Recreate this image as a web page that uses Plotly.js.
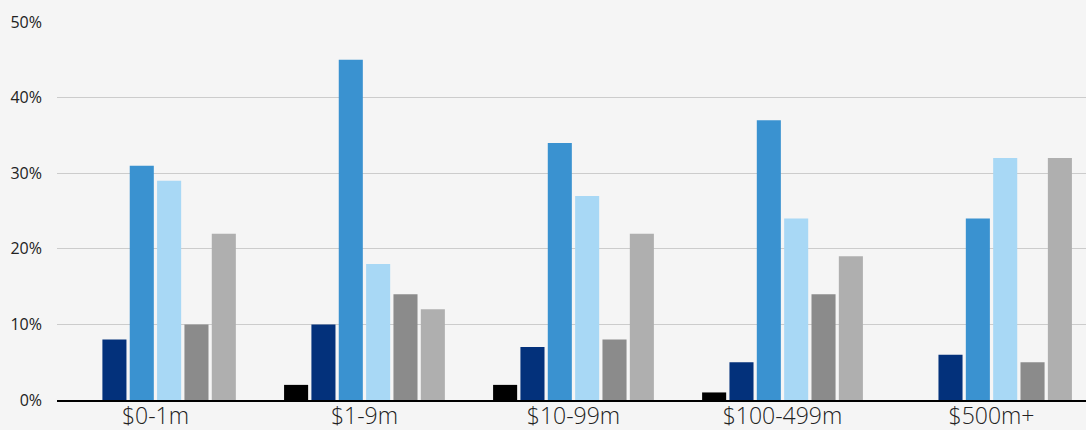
<!DOCTYPE html>
<html>
<head>
<meta charset="utf-8">
<script src="https://cdn.plot.ly/plotly-3.0.1.min.js"></script>
<style>html,body{margin:0;padding:0;background:#f5f5f5;}#chart{width:1086px;height:430px;}</style>
</head>
<body>
<div id="chart"></div>
<script>
const categories = ["$0-1m", "$1-9m", "$10-99m", "$100-499m", "$500m+"];
const seriesNames = ["Series 1", "Series 2", "Series 3", "Series 4", "Series 5", "Series 6"];
const series1 = [0, 2, 2, 1, 0];
const series2 = [8, 10, 7, 5, 6];
const series3 = [31, 45, 34, 37, 24];
const series4 = [29, 18, 27, 24, 32];
const series5 = [10, 14, 8, 14, 5];
const series6 = [22, 12, 22, 19, 32];
const yTickVals = [0, 10, 20, 30, 40, 50];
const yTickText = ["0%", "10%", "20%", "30%", "40%", "50%"];

const colors = ["#000000", "#03317b", "#3a92d0", "#a8d8f5", "#8b8b8b", "#afafaf"];
const allSeries = [series1, series2, series3, series4, series5, series6];

const data = allSeries.map((vals, i) => ({
  type: "bar",
  name: seriesNames[i],
  x: categories.map((c, j) => j),
  y: vals,
  marker: {color: colors[i]},
  hoverinfo: "y"
}));

const layout = {
  width: 1086,
  height: 430,
  paper_bgcolor: "#f5f5f5",
  plot_bgcolor: "#f5f5f5",
  margin: {l: 57, r: 0, t: 22, b: 30, pad: 0},
  showlegend: false,
  barmode: "group",
  bargap: 0.215,
  bargroupgap: 0.12,
  font: {family: "'Open Sans', sans-serif", color: "#222222"},
  xaxis: {
    range: [-0.471, 4.452],
    tickvals: [0, 1, 2, 3, 4],
    ticktext: categories,
    tickfont: {size: 23, color: "#222222", family: "'Open Sans', sans-serif", weight: 300},
    showgrid: false,
    zeroline: false,
    showline: true,
    linecolor: "#000000",
    linewidth: 2,
    ticks: "",
    ticklabelstandoff: -6
  },
  yaxis: {
    range: [0, 50],
    tickvals: yTickVals,
    ticktext: yTickText,
    tickfont: {size: 16, color: "#222222", family: "'Open Sans', sans-serif"},
    showgrid: true,
    gridcolor: "#cccccc",
    gridwidth: 1,
    zeroline: false,
    showline: false,
    ticks: "",
    ticklabelstandoff: 14
  }
};

Plotly.newPlot("chart", data, layout, {displayModeBar: false, staticPlot: true});
</script>
</body>
</html>
